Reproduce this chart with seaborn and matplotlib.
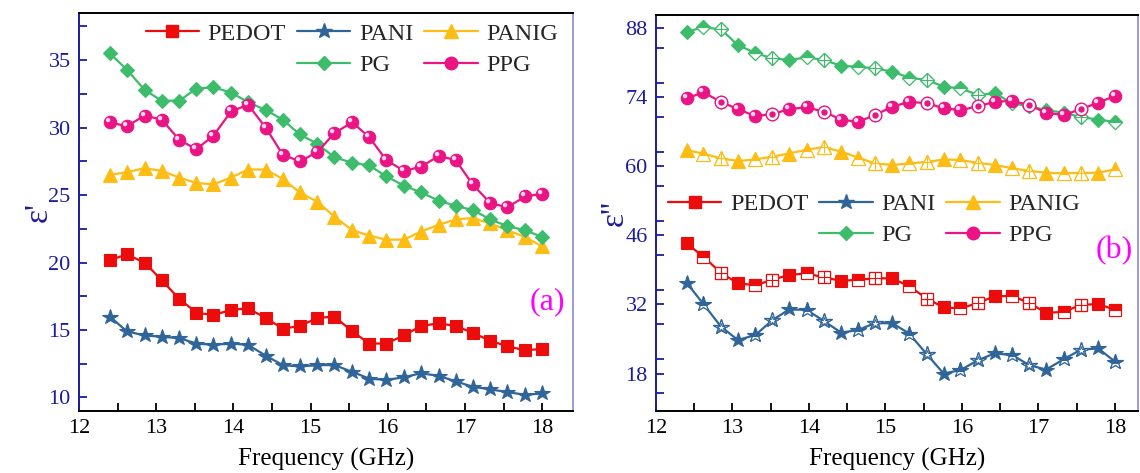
import numpy as np
import pandas as pd
import matplotlib
matplotlib.use("Agg")
import matplotlib.pyplot as plt
import seaborn as sns
from matplotlib.lines import Line2D
from matplotlib.markers import MarkerStyle
from matplotlib.transforms import Affine2D
from matplotlib.ticker import MultipleLocator

# ---------------- data ----------------
freq = [12.40, 12.62, 12.85, 13.07, 13.30, 13.52, 13.74, 13.97, 14.19, 14.42,
        14.64, 14.86, 15.09, 15.31, 15.54, 15.76, 15.98, 16.21, 16.43, 16.66,
        16.88, 17.10, 17.33, 17.55, 17.78, 18.00]

series_names = ["PEDOT", "PANI", "PANIG", "PG", "PPG"]

# (a) real permittivity
real_pedot = [20.2, 20.6, 20.0, 18.7, 17.3, 16.3, 16.1, 16.5, 16.6, 15.9, 15.1, 15.3, 15.9,
              16.0, 14.9, 14.0, 14.0, 14.6, 15.3, 15.5, 15.3, 14.8, 14.2, 13.8, 13.5, 13.6]
real_pani = [16.0, 14.9, 14.6, 14.5, 14.4, 14.0, 13.9, 14.0, 13.9, 13.1, 12.4, 12.3, 12.4,
             12.4, 11.9, 11.4, 11.3, 11.5, 11.8, 11.6, 11.2, 10.8, 10.6, 10.4, 10.2, 10.3]
real_panig = [26.5, 26.7, 27.0, 26.8, 26.3, 25.9, 25.8, 26.3, 26.9, 26.9, 26.2, 25.2, 24.5,
              23.4, 22.4, 22.0, 21.7, 21.7, 22.3, 22.8, 23.2, 23.3, 22.9, 22.4, 21.9, 21.2]
real_pg = [35.5, 34.3, 32.8, 32.0, 32.0, 32.9, 33.0, 32.6, 31.9, 31.3, 30.6, 29.5, 28.8,
           27.8, 27.4, 27.2, 26.4, 25.7, 25.2, 24.6, 24.2, 23.9, 23.2, 22.7, 22.4, 21.9]
real_ppg = [30.4, 30.1, 30.9, 30.6, 29.1, 28.4, 29.4, 31.2, 31.7, 30.0, 28.0, 27.5, 28.2,
            29.6, 30.4, 29.3, 27.6, 26.8, 27.1, 27.9, 27.6, 25.8, 24.4, 24.1, 24.9, 25.1]

# (b) imaginary permittivity
imag_pedot = [44.4, 41.7, 38.4, 36.3, 35.9, 37.0, 38.0, 38.3, 37.5, 36.8, 37.0, 37.3, 37.3,
              35.7, 33.2, 31.4, 31.2, 32.3, 33.7, 33.7, 32.3, 30.3, 30.5, 31.9, 32.1, 30.9]
imag_pani = [36.4, 32.1, 27.5, 24.8, 25.8, 28.8, 31.0, 30.9, 28.7, 26.3, 26.8, 28.2, 28.2,
             26.1, 21.9, 18.0, 18.7, 20.7, 22.1, 21.7, 19.7, 18.8, 20.9, 22.8, 23.1, 20.4]
imag_panig = [63.3, 62.6, 61.6, 61.1, 61.4, 62.0, 62.6, 63.4, 63.9, 63.0, 61.8, 60.6, 60.3,
              60.6, 60.9, 61.4, 61.3, 60.7, 60.3, 59.6, 59.1, 58.7, 58.6, 58.7, 58.7, 59.4]
imag_pg = [87.3, 88.2, 87.8, 84.6, 83.0, 81.9, 81.6, 82.1, 81.6, 80.4, 80.2, 79.9, 79.2,
           78.0, 77.5, 76.2, 75.8, 74.5, 74.8, 72.8, 72.2, 71.4, 70.9, 70.0, 69.5, 69.0]
imag_ppg = [73.8, 75.0, 73.1, 71.6, 70.2, 70.6, 71.6, 72.0, 71.1, 69.5, 69.0, 70.4, 72.1,
            73.1, 72.8, 71.8, 71.4, 72.2, 73.1, 73.3, 72.4, 70.9, 70.4, 71.6, 72.9, 74.3]

x_ticks = [12, 13, 14, 15, 16, 17, 18]
y_ticks_a = [10, 15, 20, 25, 30, 35]
y_ticks_b = [18, 32, 46, 60, 74, 88]

real_data = dict(zip(series_names, [real_pedot, real_pani, real_panig, real_pg, real_ppg]))
imag_data = dict(zip(series_names, [imag_pedot, imag_pani, imag_panig, imag_pg, imag_ppg]))

# ---------------- styles ----------------
colors = {"PEDOT": "#ec0c0c", "PANI": "#30659a", "PANIG": "#fdbd14",
          "PG": "#3dbc6c", "PPG": "#ea1484"}
markers = {"PEDOT": "s", "PANI": "*", "PANIG": "^", "PG": "D", "PPG": "o"}
msizes = {"PEDOT": 8.5, "PANI": 11.5, "PANIG": 9.5, "PG": 7.2, "PPG": 9.0}
navy = "#1c1c9e"

sns.set_style("white")
plt.rcParams["font.family"] = ["Liberation Serif", "DejaVu Serif"]

fig = plt.figure(figsize=(11.4, 4.73), dpi=100)
ax_a = fig.add_axes([0.0693, 0.1311, 0.4333, 0.8414])
ax_b = fig.add_axes([0.5754, 0.1311, 0.4228, 0.8372])

highlight = MarkerStyle("o", transform=Affine2D().translate(-0.55, 0.55))


def draw(ax, data, patterned):
    for name in series_names:
        c = colors[name]
        m = markers[name]
        ms = msizes[name]
        y = data[name]
        df = pd.DataFrame({"freq": freq, "val": y})
        sns.lineplot(data=df, x="freq", y="val", ax=ax, color=c, marker=m,
                     markersize=ms, markeredgecolor=c, markerfacecolor=c,
                     markeredgewidth=0.8, linewidth=1.6, legend=False)
        if not patterned:
            if name == "PPG":
                ax.plot(freq, y, ls="none", marker=highlight, ms=3.2,
                        mfc="#ffd6ea", mec="none")
            continue
        idx_half = [i for i in range(len(freq)) if i % 3 == 1]
        idx_open = [i for i in range(len(freq)) if i % 3 == 2]
        idx_full = [i for i in range(len(freq)) if i % 3 != 2]
        xo = [freq[i] for i in idx_open]
        yo = [y[i] for i in idx_open]
        if name != "PPG":
            xh = [freq[i] for i in idx_half]
            yh = [y[i] for i in idx_half]
            ax.plot(xh, yh, ls="none", marker=m, ms=ms, mfc=c, mfcalt="white",
                    fillstyle="top", mec=c, mew=0.8)
        ax.plot(xo, yo, ls="none", marker=m, ms=ms, mfc="white", mec=c, mew=0.9)
        if m == "s":
            ax.plot(xo, yo, ls="none", marker="+", ms=ms, mec=c, mew=0.8)
        elif m == "D":
            ax.plot(xo, yo, ls="none", marker="+", ms=ms * 1.35, mec=c, mew=0.8)
        elif m == "^":
            ax.plot(xo, yo, ls="none", marker="+", ms=ms * 0.85, mec=c, mew=0.8)
        elif m == "*":
            ax.plot(xo, yo, ls="none", marker="*", ms=ms * 0.55, mfc="white", mec=c, mew=0.7)
        elif m == "o":
            ax.plot(xo, yo, ls="none", marker="o", ms=ms * 0.4, mfc=c, mec=c)
            xf = [freq[i] for i in idx_full]
            yf = [y[i] for i in idx_full]
            ax.plot(xf, yf, ls="none", marker=highlight, ms=3.2, mfc="#ffd6ea", mec="none")


draw(ax_a, real_data, patterned=False)
draw(ax_b, imag_data, patterned=True)


def style(ax, yticks, minor_y, xlim, ylim, ylabel, ylabelpad):
    ax.set_xlim(*xlim)
    ax.set_ylim(*ylim)
    ax.set_xticks(x_ticks)
    ax.set_yticks(yticks)
    ax.xaxis.set_minor_locator(MultipleLocator(0.5))
    ax.yaxis.set_minor_locator(MultipleLocator(minor_y))
    for s in ["left", "bottom", "top", "right"]:
        ax.spines[s].set_linewidth(1.4)
        ax.spines[s].set_visible(True)
    ax.spines["left"].set_color(navy)
    ax.spines["bottom"].set_color("black")
    ax.spines["top"].set_color("black")
    ax.spines["right"].set_color("#9b9bd6")
    ax.tick_params(axis="y", which="both", direction="in", colors=navy, length=6,
                   width=1.3, left=True, right=False, labelsize=16, pad=6)
    ax.tick_params(axis="x", which="both", direction="in", colors="black", length=6,
                   width=1.3, bottom=True, top=False, labelsize=16, pad=6)
    ax.set_xlabel("Frequency (GHz)", fontsize=18, color="black", labelpad=7)
    ax.set_ylabel(ylabel, fontsize=24, color=navy, labelpad=ylabelpad)
    ax.grid(False)
    ax.set_facecolor("white")


style(ax_a, y_ticks_a, 2.5, (12, 18.4), (9, 38.5), "ε'", -4)
style(ax_b, y_ticks_b, 7, (12, 18.3), (10.4, 90.7), "ε''", -3)

ax_a.text(0.985, 0.275, "(a)", transform=ax_a.transAxes, ha="right", va="center",
          color="#ff00ff", fontsize=23)
ax_b.text(0.99, 0.405, "(b)", transform=ax_b.transAxes, ha="right", va="center",
          color="#ff00ff", fontsize=23)


def make_legend(ax, anchor):
    h = {}
    for name in series_names:
        c = colors[name]
        h[name] = Line2D([], [], color=c, marker=markers[name], ms=msizes[name],
                         mfc=c, mec=c, lw=1.6)
    blank = Line2D([], [], color="none", marker=None)
    handles = [h["PEDOT"], blank, h["PANI"], h["PG"], h["PANIG"], h["PPG"]]
    labels = ["PEDOT", "", "PANI", "PG", "PANIG", "PPG"]
    ax.legend(handles, labels, ncol=3, loc="upper left", bbox_to_anchor=anchor,
              frameon=False, fontsize=17.5, handlelength=2.2, handletextpad=0.35,
              columnspacing=0.45, labelspacing=0.38, borderpad=0, borderaxespad=0)


make_legend(ax_a, (0.135, 0.975))
make_legend(ax_b, (0.025, 0.55))

fig.savefig("out.png", dpi=100, facecolor="white")
